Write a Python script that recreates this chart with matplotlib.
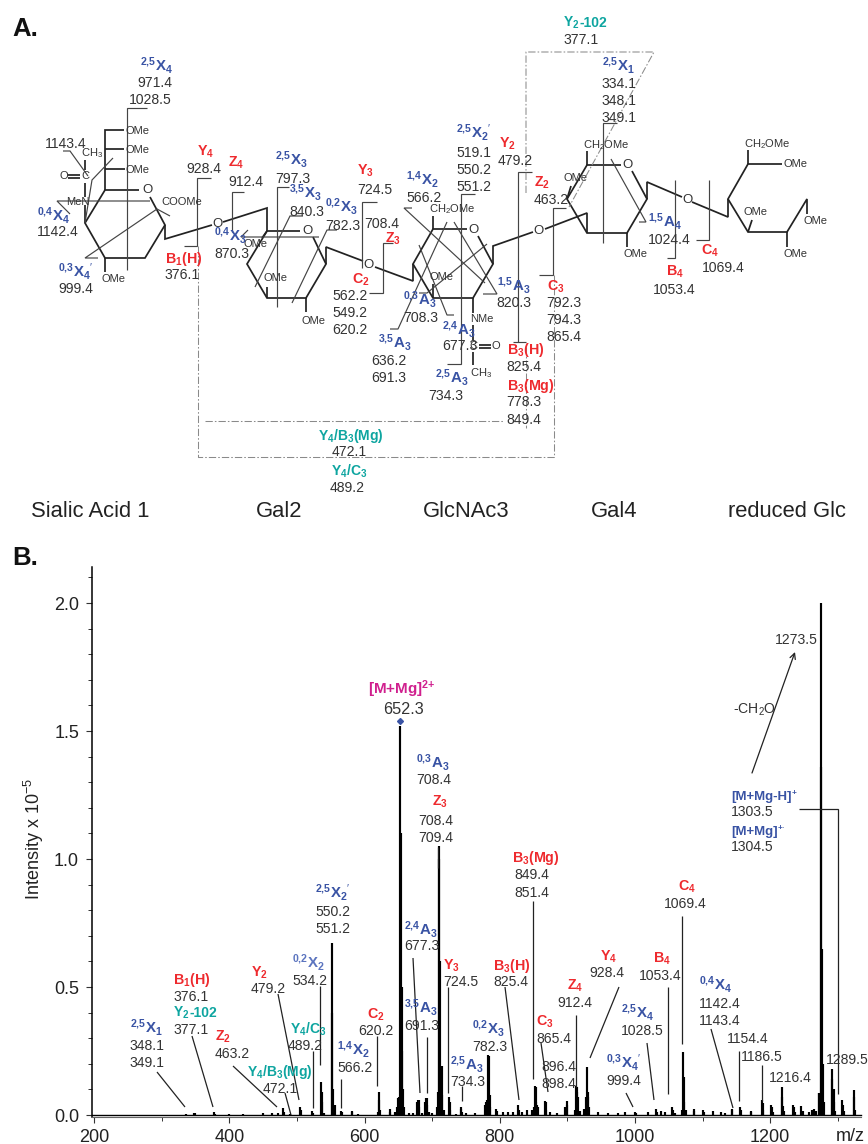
import matplotlib
matplotlib.use("Agg")
import matplotlib.pyplot as plt
from matplotlib.ticker import MultipleLocator

plt.rcParams['font.family'] = ['Liberation Sans', 'DejaVu Sans']
plt.rcParams['mathtext.fontset'] = 'custom'
plt.rcParams['mathtext.rm'] = 'Liberation Sans'
plt.rcParams['mathtext.it'] = 'Liberation Sans:italic'
plt.rcParams['mathtext.bf'] = 'Liberation Sans:bold'
plt.rcParams['mathtext.default'] = 'regular'

# ---------- spectrum data ----------
MZ = [335,348,349,377,378,400,420,450,463,472,479,480,490,505,506,522,523,535.5,536.5,537.5,540,
      551,552,553,555,556,565,567,581,582,590,620,621,622,623,637,638,645,648,650,651.5,653,654,655,656,657,658,
      665,672,678,679,680,681,685,690,691,692,693,695,700,707,708,709.5,710.5,711.5,713,714,715,717,
      725,726,727,735,742,743,744,750,763,778,780,781.5,782.5,784,785,786,795,796,805,812,820,827,828,833,841,
      848,850,852,853,854,855,856,867,868,869,875,885,897,899,900,911,913,914,915,916,918,925,927,928.5,930,931,932,
      946,960,975,985,1000,1001,1020,1031,1032,1038,1045,1055,1056,1060,1069,1070.5,1072,1073,1075,1087,1088,
      1101,1102,1116,1128,1134,1143,1144,1155.5,1157,1171,1172,1188,1189,1190,1202,1203,1205,1217,1218,1219,1220,
      1233.5,1235,1237,1246,1248,1258,1262,1265,1268,1272,1273,1275,1276,1277,1278,1279.5,1291,1292,1294,1295,1296,
      1306.5,1308,1309,1323.5,1324.5,1326]
INTENSITY = [.005,.008,.006,.012,.005,.003,.004,.008,.008,.006,.028,.012,.005,.03,.02,.014,.008,.13,.09,.05,.006,
      .67,.40,.1,.02,.04,.016,.01,.016,.01,.005,.01,.09,.06,.02,.024,.01,.012,.03,.065,.07,1.52,1.1,.5,.25,.1,.03,
      .008,.008,.05,.06,.06,.03,.008,.05,.065,.065,.04,.01,.006,.03,.09,1.05,1.0,.6,.19,.19,.08,.02,
      .072,.05,.02,.005,.033,.025,.012,.006,.008,.04,.05,.06,.235,.23,.08,.03,.025,.015,.01,.01,.012,.04,.02,.01,.018,
      .02,.03,.113,.11,.05,.04,.03,.056,.05,.02,.01,.008,.03,.055,.04,.02,.113,.11,.09,.07,.015,.025,.07,.186,.09,.07,.03,
      .012,.006,.006,.01,.01,.006,.01,.025,.012,.015,.012,.03,.018,.006,.02,.246,.15,.05,.02,.025,.015,
      .02,.01,.014,.01,.007,.023,.018,.033,.02,.014,.01,.06,.045,.02,.04,.03,.01,.108,.07,.035,.015,
      .038,.03,.012,.035,.015,.012,.02,.025,.015,.085,.085,2.0,1.36,.65,.2,.05,.18,.14,.1,.05,.015,
      .058,.04,.015,.098,.07,.02]
PRECURSOR = (653, 1.54)
XTICKS = [200, 400, 600, 800, 1000, 1200]
YTICKS = [0.0, 0.5, 1.0, 1.5, 2.0]

W, H = 868, 1144
fig = plt.figure(figsize=(W/100, H/100), dpi=100)

# ---------- spectrum axes (pixel calibration from tick positions) ----------
PX_PER_MZ = 0.6758
PX_PER_I = 256.0
X200, Y0 = 94.3, 1115.0
L, R, T, B = 92, 868, 567, 1116.5
ax = fig.add_axes([L/W, 1-B/H, (R-L)/W, (B-T)/H])
ax.set_xlim(200+(L-X200)/PX_PER_MZ, 200+(R-X200)/PX_PER_MZ)
ax.set_ylim((Y0-B)/PX_PER_I, (Y0-T)/PX_PER_I)
ax.patch.set_alpha(0)
ax.spines['top'].set_visible(False)
ax.spines['right'].set_visible(False)
ax.spines['bottom'].set_bounds(ax.get_xlim()[0], 1334)
ax.spines['left'].set_linewidth(1.1)
ax.spines['bottom'].set_linewidth(0.8)
ax.spines['bottom'].set_color('#666666')
ax.vlines(MZ, 0, INTENSITY, color='black', lw=1.55)
ax.plot([ax.get_xlim()[0], 1334], [0, 0], color='black', lw=1.0)
ax.plot([PRECURSOR[0]], [PRECURSOR[1]], marker='D', ms=3, color='#3953a4', ls='none')
ax.set_xticks(XTICKS)
ax.set_yticks(YTICKS)
ax.set_yticklabels([f'{v:.1f}' for v in YTICKS])
ax.xaxis.set_minor_locator(MultipleLocator(100))
ax.yaxis.set_minor_locator(MultipleLocator(0.1))
ax.tick_params(axis='x', which='major', labelsize=13, length=4, width=0.8, pad=5, labelcolor='#222222', color='#333333')
ax.tick_params(axis='y', which='major', labelsize=13, length=4.3, width=0.8, pad=5, labelcolor='#222222', color='#333333')
ax.tick_params(axis='both', which='minor', length=3, width=0.7, color='#333333')

# ---------- overlay in pixel coordinates ----------
ov = fig.add_axes([0, 0, 1, 1], zorder=5)
ov.set_xlim(0, W)
ov.set_ylim(H, 0)
ov.axis('off')
ov.patch.set_alpha(0)

RED, BLUE, TEAL, MAG, INK = '#ee2a2e', '#3953a4', '#0ea5a0', '#d0208e', '#333333'

def poly(pts, lw=0.8, c='#444444', **kw):
    ov.plot([p[0] for p in pts], [p[1] for p in pts], color=c, lw=lw, solid_capstyle='butt', solid_joinstyle='miter', **kw)

def num(x, y, s, size=10.1, c=INK):
    ov.text(x, y, s, fontsize=size, color=c, va='baseline', ha='left')

def frag(x, y, sup, main, sub, c=BLUE, prime=False, size=10.8):
    sup = sup.replace(',', '{,}')
    s = r'$\mathbf{{}^{' + sup + '}' + main + '_{' + sub + '}' + "}$"
    if prime:
        s = s[:-1] + "'$"
    ov.text(x, y, s, fontsize=size, color=c, va='baseline', ha='left')

def bold(x, y, s, c=RED, size=10.3):
    ov.text(x, y, s, fontsize=size, color=c, va='baseline', ha='left')

def small(x, y, s, size=8):
    ov.text(x, y, s, fontsize=size, color=INK, va='center', ha='left')

# ---- carbohydrate bonds ----
BONDS = [
    [(139,190),(105,190),(85,223),(105,258),(145,258),(165,225),(150,197)],
    [(165,225),(165,239),(212,225)], [(223,222),(267,208),(267,231)],
    [(300,231),(267,231),(247,264),(267,298),(306,298),(326,264),(313,237)],
    [(326,264),(326,247),(363,261)], [(375,267),(413,281),(413,264)],
    [(467,229),(433,229),(413,264),(433,298),(473,298),(493,264),(478,236)],
    [(493,264),(493,246),(533,232)], [(545,229),(587,213),(587,233)],
    [(621,165),(587,165),(567,199),(587,233),(627,233),(647,199),(632,171)],
    [(647,199),(647,182),(682,197)], [(692,202),(728,217),(728,199)],
    [(782,164),(748,164),(728,199),(748,232),(787,232),(807,199),(807,214)],
    [(105,190),(105,130),(124,130)], [(105,149),(124,149)], [(105,169),(125,169)],
    [(105,258),(105,272)], [(85,223),(85,205)], [(85,197),(85,183)], [(85,170),(85,160)],
    [(68,175),(80,175)], [(68,178),(80,178)],
    [(267,298),(267,287)], [(306,298),(306,312)], [(267,231),(262,238)],
    [(433,229),(433,216)], [(433,298),(433,284)], [(473,298),(473,313)],
    [(473,325),(473,340)], [(473,352),(473,365)], [(479,345),(491,345)], [(479,348),(491,348)],
    [(587,165),(587,151)], [(567,199),(571,186)], [(627,233),(627,247)],
    [(748,164),(748,150)], [(787,232),(787,247)], [(748,232),(752,220)],
]
for b in BONDS:
    poly(b, lw=1.25, c='#222222')

# ---- fragmentation brackets ----
BRACKETS = [
    [(147,108),(127,108),(127,270)], [(63,151),(70,151),(88,176)], [(113,158),(92,180),(85,223)],
    [(70,214),(57,201),(150,201)], [(98,258),(85,258),(157,209),(170,216)],
    [(211,178),(197,178),(197,246),(184,246)], [(244,192),(232,192),(232,232)],
    [(248,230),(241,237),(319,237)], [(289,187),(277,187),(277,307)],
    [(303,216),(290,216),(255,287)], [(337,230),(327,230),(292,303)],
    [(377,202),(362,202),(362,268)], [(393,243),(383,243),(383,293),(369,293)],
    [(412,208),(404,208),(485,283)], [(454,222),(497,294),(483,294)],
    [(419,293),(427,293),(487,244)], [(390,329),(398,329),(447,222)],
    [(454,315),(447,315),(419,245)], [(447,364),(461,364),(461,194),(475,194)],
    [(532,172),(518,172),(518,342)], [(513,342),(526,342)],
    [(566,208),(553,208),(553,275),(539,275)], [(617,123),(603,123),(603,243)],
    [(611,159),(646,222),(639,222)], [(675,180),(675,258),(667,258)],
    [(709,180),(709,240),(696,240)],
]
for b in BRACKETS:
    poly(b, lw=0.85)

# ---- dash-dot connectors ----
DASHDOT = [
    [(198,246),(198,457),(554,457),(554,275)], [(205,421),(503,421)],
    [(526,347),(526,428)], [(526,193),(526,52),(654,52),(569,207)],
]
for d in DASHDOT:
    ov.plot([p[0] for p in d], [p[1] for p in d], color='#8a8a8a', lw=0.75, ls=(0, (7, 2, 1.5, 2)))

# ---- atom/group text ----
for x, y, s in [(125,131,'OMe'),(125,150,'OMe'),(125,170,'OMe'),(161,202,'COOMe'),(66,202,'MeN'),
                (81,153,'CH$_3$'),(60,176,'O'),(81,176,'C'),(101,279,'OMe'),
                (244,244,'OMe'),(263,278,'OMe'),(302,321,'OMe'),(429,209,'CH$_2$OMe'),(430,277,'OMe'),
                (470,319,'NMe'),(469,346,'C'),(492,346,'O'),(470,373,'CH$_3$'),
                (563,178,'OMe'),(583,145,'CH$_2$OMe'),(623,254,'OMe'),
                (744,144,'CH$_2$OMe'),(783,164,'OMe'),(743,212,'OMe'),(803,221,'OMe'),(783,254,'OMe')]:
    small(x, y, s)
for x, y, s in [(142,190,'O'),(212,224,'O'),(302,231,'O'),(363,265,'O'),(468,230,'O'),(533,231,'O'),
                (622,165,'O'),(682,200,'O')]:
    small(x, y, s, size=9.5)

# ---- part A fragment names ----
for x, y, sup, main, sub, pr in [
    (140,71,'2,5','X','4',0),(37,221,'0,4','X','4',0),(58,277,'0,3','X','4',1),(275,165,'2,5','X','3',0),
    (289,198,'3,5','X','3',0),(325,212,'0,2','X','3',0),(406,185,'1,4','X','2',0),(214,241,'0,4','X','3',0),
    (403,305,'0,3','A','3',0),(378,348,'3,5','A','3',0),(442,335,'2,4','A','3',0),(435,383,'2,5','A','3',0),
    (497,291,'1,5','A','3',0),(456,138,'2,5','X','2',1),(602,71,'2,5','X','1',0),(648,227,'1,5','A','4',0)]:
    frag(x, y, sup, main, sub, prime=bool(pr))
for x, y, s in [(197,156,r'$\mathbf{Y_{4}}$'),(228,167,r'$\mathbf{Z_{4}}$'),(357,175,r'$\mathbf{Y_{3}}$'),
                (385,243,r'$\mathbf{Z_{3}}$'),(165,263,r'$\mathbf{B_{1}(H)}$'),(352,284,r'$\mathbf{C_{2}}$'),
                (499,148,r'$\mathbf{Y_{2}}$'),(534,187,r'$\mathbf{Z_{2}}$'),(547,291,r'$\mathbf{C_{3}}$'),
                (507,354,r'$\mathbf{B_{3}(H)}$'),(507,390,r'$\mathbf{B_{3}(Mg)}$'),(701,255,r'$\mathbf{C_{4}}$'),
                (666,276,r'$\mathbf{B_{4}}$')]:
    bold(x, y, s)
for x, y, s in [(318,440,r'$\mathbf{Y_{4}/B_{3}(Mg)}$'),(331,476,r'$\mathbf{Y_{4}/C_{3}}$'),(563,27,r'$\mathbf{Y_{2}}$')]:
    bold(x, y, s, c=TEAL, size=10)
ov.text(579, 27, '-102', fontsize=10, fontweight='bold', color=TEAL, va='baseline')
for x, y, s in [(137,87,'971.4'),(129,104,'1028.5'),(44.5,148,'1143.4'),(37,236,'1142.4'),(58,293,'999.4'),
                (186,173,'928.4'),(228,186,'912.4'),(275,183,'797.3'),(289,216,'840.3'),(325,230,'782.3'),
                (357,194,'724.5'),(364,228,'708.4'),(406,202,'566.2'),(164.5,279,'376.1'),(214,258,'870.3'),
                (332,300,'562.2'),(332,317,'549.2'),(332,334,'620.2'),(403,322,'708.3'),(371,365,'636.2'),
                (371,382,'691.3'),(442,350,'677.3'),(428,400,'734.3'),(496,307,'820.3'),(456,157,'519.1'),
                (456,174,'550.2'),(456,191,'551.2'),(498,165,'479.2'),(534,204,'463.2'),(546,307,'792.3'),
                (546,324,'794.3'),(546,341,'865.4'),(506,371,'825.4'),(506,406,'778.3'),(506,424,'849.4'),
                (332,456,'472.1'),(330,492,'489.2'),(563,44,'377.1'),(602,88,'334.1'),(602,105,'348.1'),
                (602,122,'349.1'),(648,244,'1024.4'),(702,272,'1069.4'),(653,294,'1053.4')]:
    num(x, y, s)
for x, s in [(31,'Sialic Acid 1'),(256,'Gal2'),(423,'GlcNAc3'),(591,'Gal4'),(728,'reduced Glc')]:
    ov.text(x, 517, s, fontsize=15.8, color='#222222', va='baseline', ha='left')
ov.text(12, 36, 'A.', fontsize=18.5, fontweight='bold', color='#111111', va='baseline')
ov.text(12, 565, 'B.', fontsize=18.5, fontweight='bold', color='#111111', va='baseline')

# ---- part B annotation ----
for x, y, sup, main, sub, pr in [
    (130,1033,'2,5','X','1',0),(315,898,'2,5','X','2',1),(337,1055,'1,4','X','2',0),
    (404,935,'2,4','A','3',0),(404,1013,'3,5','A','3',0),(450,1070,'2,5','A','3',0),(416,768,'0,3','A','3',0),
    (472,1034,'0,2','X','3',0),(621,1018,'2,5','X','4',0),(606,1068,'0,3','X','4',1),(699,990,'0,4','X','4',0)]:
    frag(x, y, sup, main, sub, prime=bool(pr))
frag(292, 968, '0,2', 'X', '2', c='#5b74bf')
for x, y, s in [(173,984,r'$\mathbf{B_{1}(H)}$'),(215,1041,r'$\mathbf{Z_{2}}$'),(251,977,r'$\mathbf{Y_{2}}$'),
                (367,1019,r'$\mathbf{C_{2}}$'),(443,970,r'$\mathbf{Y_{3}}$'),(432,806,r'$\mathbf{Z_{3}}$'),
                (493,970,r'$\mathbf{B_{3}(H)}$'),(512,862,r'$\mathbf{B_{3}(Mg)}$'),(536,1026,r'$\mathbf{C_{3}}$'),
                (567,990,r'$\mathbf{Z_{4}}$'),(600,961,r'$\mathbf{Y_{4}}$'),(653,963,r'$\mathbf{B_{4}}$'),
                (678,891,r'$\mathbf{C_{4}}$')]:
    bold(x, y, s)
for x, y, s in [(247,1076,r'$\mathbf{Y_{4}/B_{3}(Mg)}$'),(290,1034,r'$\mathbf{Y_{4}/C_{3}}$'),(173,1017,r'$\mathbf{Y_{2}}$')]:
    bold(x, y, s, c=TEAL, size=10)
ov.text(189, 1017, '-102', fontsize=10, fontweight='bold', color=TEAL, va='baseline')
bold(368, 694, r'$\mathbf{[M{+}Mg]^{2{+}}}$', c=MAG, size=11)
num(383, 714, '652.3', size=11.7)
ov.text(731, 800, '[M+Mg-H]', fontsize=9.5, fontweight='bold', color=BLUE, va='baseline')
ov.text(792, 795, '+', fontsize=6, fontweight='bold', color=BLUE, va='baseline')
ov.text(731, 835, '[M+Mg]', fontsize=9.5, fontweight='bold', color=BLUE, va='baseline')
ov.text(778, 830, '+·', fontsize=6, fontweight='bold', color=BLUE, va='baseline')
for x, y, s in [(130,1050,'348.1'),(130,1067,'349.1'),(173,1001,'376.1'),(173,1034,'377.1'),(215,1058,'463.2'),
                (263,1093,'472.1'),(251,993,'479.2'),(288,1050,'489.2'),(292,985,'534.2'),(315,916,'550.2'),
                (315,933,'551.2'),(337,1072,'566.2'),(358,1035,'620.2'),(404,950,'677.3'),(404,1030,'691.3'),
                (416,784,'708.4'),(418,825,'708.4'),(418,842,'709.4'),(443,986,'724.5'),(450,1086,'734.3'),
                (472,1051,'782.3'),(493,986,'825.4'),(514,879,'849.4'),(514,897,'851.4'),(536,1043,'865.4'),
                (541,1071,'896.4'),(541,1088,'898.4'),(557,1007,'912.4'),(589,977,'928.4'),(606,1085,'999.4'),
                (621,1035,'1028.5'),(639,980,'1053.4'),(664,908,'1069.4'),(699,1008,'1142.4'),(699,1025,'1143.4'),
                (727,1043,'1154.4'),(741,1061,'1186.5'),(769,1082,'1216.4'),(826,1064,'1289.5'),(775,644,'1273.5'),
                (731,816,'1303.5'),(731,851,'1304.5')]:
    num(x, y, s)
ov.text(733, 714, '-CH$_2$O', fontsize=10.1, color=INK, va='baseline')
LEADERS = [
    [(157,1072),(185,1107)],[(192,1036),(213,1107)],[(233,1066),(277,1107)],[(285,1093),(291,1115)],
    [(278,994),(299,1100)],[(313,1051),(313,1108)],[(320,986),(320,1065)],[(341,1079),(341,1108)],
    [(377,1036),(377,1086)],[(413,958),(420,1093)],[(427,1037),(427,1093)],[(448,987),(448,1093)],
    [(462,1086),(462,1101)],[(505,987),(519,1100)],[(533,901),(533,1079)],[(541,1043),(548,1092)],
    [(576,1015),(576,1087)],[(619,987),(590,1058)],[(647,1043),(654,1100)],[(626,1093),(633,1107)],
    [(668,987),(668,1094)],[(682,916),(682,1044)],[(711,1029),(733,1108)],[(739,1051),(739,1101)],
    [(762,1065),(762,1101)],[(438,847),(438,868)],[(799,809),(838,809),(838,1094)],
]
for l in LEADERS:
    poly(l, lw=0.9, c='#222222')
ov.annotate('', xy=(795,652), xytext=(752,773),
            arrowprops=dict(arrowstyle='->', lw=0.9, color='#222222', shrinkA=0, shrinkB=0, mutation_scale=10))
ov.text(34, 839, 'Intensity x 10$^{-5}$', fontsize=13, rotation=90, color='#222222', va='center', ha='center')
ov.text(836, 1141, 'm/z', fontsize=13, color='#222222', va='baseline')

fig.savefig('out.png', dpi=100, facecolor='white')
